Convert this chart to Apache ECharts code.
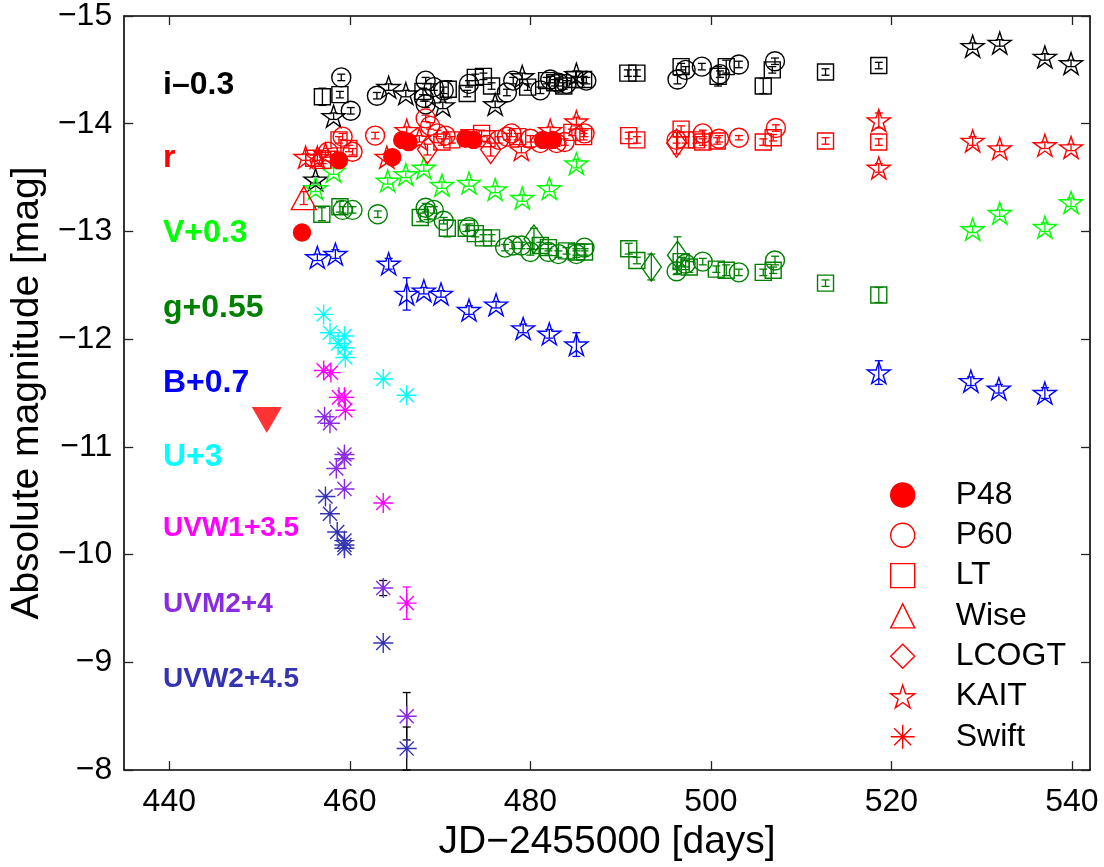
<!DOCTYPE html>
<html>
<head>
<meta charset="utf-8">
<script src="https://cdn.jsdelivr.net/npm/echarts@6/dist/echarts.min.js"></script>
<style>
  html, body { margin: 0; padding: 0; background: #fff; }
  #chart { width: 1104px; height: 867px; }
</style>
</head>
<body>
<div id="chart"></div>
<script>
// Axis ticks
const X_TICKS = [440, 460, 480, 500, 520, 540];
const Y_TICKS = [-15, -14, -13, -12, -11, -10, -9, -8];

// Light-curve points: [JD-2455000, absolute magnitude (offset applied), error]
const i_P60 = [[459.05,-14.43,0.03],[460.1,-14.12,0.03],[463.0,-14.26,0.03],[468.4,-14.40,0.03],[469.3,-14.34,0.03],[470.4,-14.31,0.03],[468.4,-14.18,0.03],[468.2,-14.24,0.03],[473.2,-14.37,0.03],[477.4,-14.29,0.03],[478.1,-14.40,0.03],[481.1,-14.31,0.03],[482.2,-14.41,0.03],[483.1,-14.38,0.03],[484.0,-14.37,0.03],[486.2,-14.40,0.03],[496.3,-14.41,0.04],[497.2,-14.50,0.03],[499.0,-14.53,0.03],[501.0,-14.46,0.03],[503.1,-14.55,0.03],[507.1,-14.58,0.03]];
const i_LT = [[456.96,-14.25,0.08],[458.9,-14.27,0.03],[468.1,-14.30,0.03],[470.9,-14.32,0.08],[473.0,-14.28,0.03],[473.9,-14.43,0.03],[474.8,-14.44,0.03],[475.7,-14.35,0.03],[479.7,-14.34,0.03],[481.8,-14.40,0.03],[482.7,-14.38,0.03],[483.7,-14.35,0.03],[484.9,-14.41,0.03],[485.9,-14.41,0.03],[490.8,-14.47,0.03],[491.8,-14.47,0.03],[496.7,-14.53,0.03],[500.8,-14.44,0.09],[501.7,-14.53,0.06],[505.8,-14.35,0.07],[506.8,-14.50,0.03],[512.7,-14.48,0.03],[518.6,-14.54,0.03]];
const i_KAIT = [[456.2,-13.48,0.03],[458.2,-14.07,0.03],[464.3,-14.34,0.03],[466.2,-14.28,0.03],[470.3,-14.17,0.03],[476.1,-14.18,0.03],[479.1,-14.44,0.03],[485.1,-14.46,0.03],[529.0,-14.72,0.03],[532.0,-14.75,0.03],[537.0,-14.62,0.03],[539.9,-14.56,0.03]];

const r_P48 = [[454.7,-12.99,0.02],[458.8,-13.66,0.02],[464.7,-13.69,0.02],[465.8,-13.85,0.02],[466.5,-13.83,0.02],[472.8,-13.86,0.02],[473.7,-13.85,0.02],[481.4,-13.85,0.02],[482.5,-13.85,0.02]];
const r_P60 = [[457.6,-13.74,0.03],[459.2,-13.88,0.03],[460.3,-13.74,0.03],[462.8,-13.89,0.03],[468.4,-14.05,0.03],[468.9,-13.98,0.03],[469.7,-13.91,0.03],[470.6,-13.89,0.03],[476.5,-13.85,0.03],[477.4,-13.88,0.03],[477.9,-13.91,0.03],[480.0,-13.86,0.03],[481.1,-13.82,0.03],[482.9,-13.82,0.03],[483.8,-13.83,0.03],[486.0,-13.91,0.03],[496.2,-13.85,0.03],[499.1,-13.91,0.03],[500.9,-13.86,0.03],[503.1,-13.87,0.02],[507.2,-13.96,0.03]];
const r_LT = [[456.0,-13.68,0.03],[457.0,-13.66,0.03],[458.8,-13.85,0.03],[459.9,-13.77,0.03],[470.2,-13.83,0.03],[471.3,-13.85,0.03],[473.2,-13.87,0.03],[474.6,-13.91,0.03],[475.2,-13.86,0.03],[478.6,-13.88,0.03],[484.6,-13.92,0.03],[485.9,-13.88,0.03],[490.9,-13.89,0.03],[491.8,-13.85,0.03],[496.7,-13.95,0.03],[497.2,-13.85,0.03],[498.4,-13.85,0.03],[499.1,-13.83,0.03],[500.7,-13.84,0.03],[505.8,-13.83,0.03],[506.9,-13.87,0.03],[512.7,-13.84,0.03],[518.6,-13.83,0.03]];
const r_Wise = [[454.9,-13.31,0.06]];
const r_LCOGT = [[468.6,-13.76,0.05],[475.6,-13.76,0.06],[496.2,-13.82,0.10]];
const r_KAIT = [[455.1,-13.69,0.03],[456.4,-13.69,0.03],[457.3,-13.72,0.03],[464.1,-13.69,0.03],[466.3,-13.94,0.03],[467.7,-13.86,0.03],[479.0,-13.76,0.03],[482.2,-13.94,0.03],[485.1,-14.02,0.04],[518.6,-14.03,0.07],[518.6,-13.59,0.04],[529.0,-13.84,0.04],[532.0,-13.77,0.03],[537.0,-13.80,0.03],[539.9,-13.78,0.03]];
const r_limit = [[450.8,-11.25]];

const V_KAIT = [[456.2,-13.40,0.03],[458.2,-13.56,0.03],[464.2,-13.47,0.03],[466.2,-13.53,0.03],[468.2,-13.59,0.03],[470.2,-13.43,0.03],[473.2,-13.45,0.03],[476.1,-13.39,0.03],[479.1,-13.31,0.03],[482.1,-13.40,0.03],[485.1,-13.63,0.04],[529.0,-13.02,0.03],[532.0,-13.17,0.03],[537.0,-13.04,0.04],[539.9,-13.27,0.04]];

const g_P60 = [[459.2,-13.20,0.03],[460.3,-13.20,0.03],[463.1,-13.16,0.03],[468.4,-13.22,0.04],[468.6,-13.17,0.06],[469.3,-13.20,0.03],[470.4,-13.10,0.03],[473.2,-13.04,0.03],[477.2,-12.85,0.03],[478.1,-12.87,0.03],[479.0,-12.87,0.03],[480.0,-12.81,0.03],[482.0,-12.81,0.03],[483.1,-12.79,0.03],[485.1,-12.79,0.03],[486.0,-12.85,0.03],[496.2,-12.63,0.03],[497.2,-12.70,0.03],[499.1,-12.72,0.03],[503.1,-12.62,0.03],[507.1,-12.73,0.04]];
const g_LT = [[456.9,-13.16,0.06],[458.9,-13.23,0.05],[467.8,-13.13,0.04],[470.8,-13.03,0.08],[472.9,-13.03,0.03],[473.9,-12.98,0.03],[474.8,-12.94,0.03],[475.7,-12.94,0.03],[481.1,-12.87,0.03],[482.0,-12.85,0.03],[484.0,-12.82,0.03],[485.1,-12.81,0.03],[486.0,-12.81,0.03],[490.9,-12.84,0.05],[491.8,-12.73,0.03],[496.7,-12.72,0.04],[497.6,-12.67,0.05],[500.6,-12.65,0.03],[501.7,-12.64,0.05],[505.8,-12.62,0.03],[506.9,-12.64,0.03],[512.7,-12.52,0.03],[518.6,-12.41,0.07]];
const g_LCOGT = [[480.4,-12.93,0.10],[493.4,-12.67,0.12],[496.3,-12.78,0.17]];

const B_KAIT = [[456.4,-12.76,0.03],[458.4,-12.79,0.04],[464.3,-12.70,0.05],[466.3,-12.42,0.15],[468.2,-12.45,0.03],[470.1,-12.42,0.03],[473.2,-12.27,0.04],[476.2,-12.32,0.03],[479.2,-12.10,0.04],[482.1,-12.05,0.04],[485.1,-11.95,0.11],[518.6,-11.69,0.11],[528.8,-11.61,0.04],[531.9,-11.54,0.04],[537.0,-11.50,0.05]];

const U_Swift = [[457.1,-12.23,0],[457.8,-12.06,0],[458.7,-11.96,0],[459.4,-12.03,0],[459.4,-11.92,0],[459.5,-11.83,0],[463.7,-11.63,0],[466.3,-11.48,0]];
const UVW1_Swift = [[457.1,-11.71,0],[457.9,-11.69,0],[458.8,-11.46,0],[459.4,-11.46,0],[459.5,-11.34,0],[463.7,-10.48,0],[466.3,-9.55,0.15]];
const UVM2_Swift = [[457.2,-11.28,0],[457.8,-11.22,0],[458.5,-10.80,0],[459.4,-10.93,0],[459.4,-10.89,0],[459.4,-10.61,0],[463.7,-9.69,0.07],[466.3,-8.50,0.22]];
const UVW2_Swift = [[457.3,-10.54,0],[457.8,-10.38,0],[458.6,-10.21,0],[459.4,-10.13,0],[459.4,-10.09,0],[459.4,-10.06,0],[463.7,-9.18,0],[466.3,-8.20,0.20]];

// Band names and instrument names
const BAND_KEYS = ['i', 'r', 'V', 'g', 'B', 'U', 'UVW1', 'UVM2', 'UVW2'];
const BAND_LABELS = ['i\u20130.3', 'r', 'V+0.3', 'g+0.55', 'B+0.7', 'U+3', 'UVW1+3.5', 'UVM2+4', 'UVW2+4.5'];
const INSTRUMENTS = ['P48', 'P60', 'LT', 'Wise', 'LCOGT', 'KAIT', 'Swift'];

const FONT = '"Liberation Sans", Arial, Helvetica, sans-serif';
const COLORS = {
  i: '#000000', r: '#ff0000', V: '#00ff00', g: '#008000', B: '#0000ff',
  U: '#00ffff', UVW1: '#ff00ff', UVM2: '#8a2be2', UVW2: '#3333b3'
};
const STAR = 'path://M0,-10L2.245,-3.09L9.511,-3.09L3.633,1.18L5.878,8.09L0,3.82L-5.878,8.09L-3.633,1.18L-9.511,-3.09L-2.245,-3.09Z';
const ASTER = 'path://M0,-10L0,10M-10,0L10,0M-7.07,-7.07L7.07,7.07M-7.07,7.07L7.07,-7.07';
const MARKERS = {
  P48:   { symbol: 'circle',   size: 17, filled: true },
  P60:   { symbol: 'circle',   size: 19 },
  LT:    { symbol: 'rect',     size: 16 },
  Wise:  { symbol: 'triangle', size: [25, 23] },
  LCOGT: { symbol: 'diamond',  size: [20, 28] },
  KAIT:  { symbol: STAR,       size: 23 },
  Swift: { symbol: ASTER,      size: 20 }
};

function marks(name, data, inst, color) {
  const m = MARKERS[inst];
  return {
    type: 'scatter', name,
    data: data.map(p => [p[0], p[1]]),
    symbol: m.symbol, symbolSize: m.size, symbolKeepAspect: true,
    itemStyle: { color: m.filled ? color : 'rgba(0,0,0,0)', borderColor: color, borderWidth: 1.4, opacity: 1 },
    emphasis: { disabled: true }, silent: true, animation: false, z: 3
  };
}

function bars(data, color) {
  return {
    type: 'custom', silent: true, animation: false, z: 2,
    data: data.filter(p => p[2] > 0),
    encode: { x: 0, y: 1 },
    renderItem(params, api) {
      const x = api.value(0), y = api.value(1), e = api.value(2);
      const a = api.coord([x, y - e]), b = api.coord([x, y + e]);
      const cw = 4, st = { stroke: color, lineWidth: 1.3 };
      return { type: 'group', children: [
        { type: 'line', shape: { x1: a[0], y1: a[1], x2: b[0], y2: b[1] }, style: st },
        { type: 'line', shape: { x1: a[0] - cw, y1: a[1], x2: a[0] + cw, y2: a[1] }, style: st },
        { type: 'line', shape: { x1: b[0] - cw, y1: b[1], x2: b[0] + cw, y2: b[1] }, style: st }
      ] };
    }
  };
}

// band -> [instrument, data] groups
const GROUPS = [
  ['i', [['P60', i_P60], ['LT', i_LT], ['KAIT', i_KAIT]]],
  ['V', [['KAIT', V_KAIT]]],
  ['g', [['P60', g_P60], ['LT', g_LT], ['LCOGT', g_LCOGT]]],
  ['B', [['KAIT', B_KAIT]]],
  ['U', [['Swift', U_Swift]]],
  ['UVW1', [['Swift', UVW1_Swift]]],
  ['UVM2', [['Swift', UVM2_Swift]]],
  ['UVW2', [['Swift', UVW2_Swift]]],
  ['r', [['P48', r_P48], ['P60', r_P60], ['LT', r_LT], ['Wise', r_Wise], ['LCOGT', r_LCOGT], ['KAIT', r_KAIT]]]
];

const series = [];
GROUPS.forEach(([band, sets]) => {
  const c = COLORS[band];
  // the faint UV bands carry black error bars
  const barColor = (band === 'UVM2' || band === 'UVW2') ? '#000000' : c;
  sets.forEach(([inst, data]) => {
    series.push(bars(data, barColor));
    series.push(marks(band === 'r' ? inst : band + ' ' + inst, data, inst, c));
  });
});
// legend entry for the Swift marker (red, like the other legend symbols)
series.push(marks('Swift', [], 'Swift', COLORS.r));
// r-band upper limit
series.push({
  type: 'scatter', name: 'r limit', data: r_limit,
  symbol: 'triangle', symbolRotate: 180, symbolSize: [30, 26],
  itemStyle: { color: '#ff0000' }, silent: true, animation: false, z: 3
});

function axisLabelText(v) { return v < 0 ? '\u2212' + (-v) : String(v); }

const axisLineStyle = { color: '#000', width: 1.6 };
const tickStyle = { color: '#222', width: 1.3 };

const chart = echarts.init(document.getElementById('chart'), null, { renderer: 'canvas' });
chart.setOption({
  animation: false,
  backgroundColor: '#fff',
  grid: { left: 123, right: 14, top: 11, bottom: 94, containLabel: false },
  xAxis: [
    {
      type: 'value', min: 435, max: 542, position: 'bottom',
      name: 'JD\u22122455000 [days]', nameLocation: 'middle', nameGap: 51,
      nameTextStyle: { fontSize: 39, fontFamily: FONT, color: '#000' },
      axisLine: { lineStyle: axisLineStyle },
      axisTick: { inside: true, length: 9, customValues: X_TICKS, lineStyle: tickStyle },
      axisLabel: { customValues: X_TICKS, fontSize: 32, fontFamily: FONT, color: '#000', margin: 16 },
      splitLine: { show: false }
    },
    {
      type: 'value', min: 435, max: 542, position: 'top',
      axisLine: { lineStyle: axisLineStyle },
      axisTick: { inside: true, length: 9, customValues: X_TICKS, lineStyle: tickStyle },
      axisLabel: { show: false }, splitLine: { show: false }
    }
  ],
  yAxis: [
    {
      type: 'value', min: -15, max: -8, inverse: true, position: 'left',
      name: 'Absolute magnitude [mag]', nameLocation: 'middle', nameGap: 73, nameRotate: 90,
      nameTextStyle: { fontSize: 39, fontFamily: FONT, color: '#000' },
      axisLine: { lineStyle: axisLineStyle },
      axisTick: { inside: true, length: 9, customValues: Y_TICKS, lineStyle: tickStyle },
      axisLabel: { customValues: Y_TICKS, fontSize: 32, fontFamily: FONT, color: '#000', margin: 12, formatter: axisLabelText },
      splitLine: { show: false }
    },
    {
      type: 'value', min: -15, max: -8, inverse: true, position: 'right',
      axisLine: { lineStyle: axisLineStyle },
      axisTick: { inside: true, length: 9, customValues: Y_TICKS, lineStyle: tickStyle },
      axisLabel: { show: false }, splitLine: { show: false }
    }
  ],
  legend: {
    orient: 'vertical', left: 885, top: 474,
    data: INSTRUMENTS,
    itemWidth: 24, itemHeight: 24, itemGap: 8.3,
    selectedMode: false,
    itemStyle: { borderWidth: 1.4 },
    textStyle: { fontSize: 32, fontFamily: FONT, color: '#000', lineHeight: 26, padding: [0, 0, 0, 36] }
  },
  series
});

// band labels down the left side of the plot
const LABEL_TOP = [69, 142, 217, 292, 367, 441, 514, 590, 665];
chart.setOption({
  graphic: BAND_LABELS.map((t, k) => ({
    type: 'text', left: 163, top: LABEL_TOP[k], silent: true,
    style: {
      text: t, fill: COLORS[BAND_KEYS[k]],
      font: 'bold ' + (k >= 6 ? 28 : 32) + 'px ' + FONT,
      verticalAlign: 'middle'
    }
  }))
});
</script>
</body>
</html>
